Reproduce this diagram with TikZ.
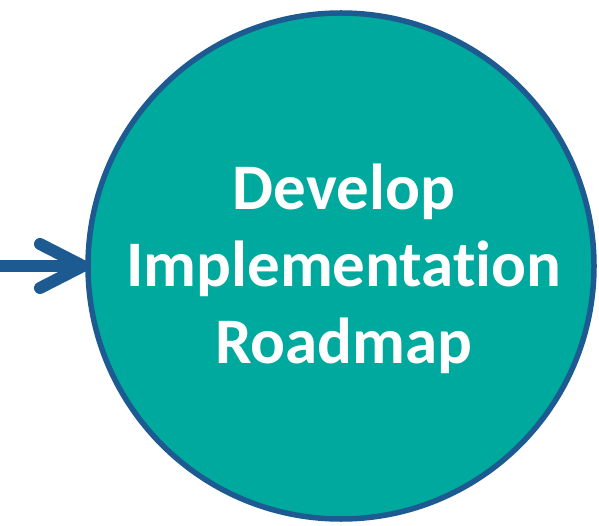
\documentclass[tikz,border=0pt]{standalone}
\usepackage{fontspec}
\setmainfont{Carlito}[Ligatures=NoCommon]
\definecolor{tealfill}{HTML}{00A99D}
\definecolor{rimblue}{HTML}{1D5A91}
\begin{document}
\begin{tikzpicture}[x=1pt,y=1pt,
  bigcircle/.style={circle,draw=rimblue,line width=5.5pt,fill=tealfill,minimum size=506pt,inner sep=0pt},
  lbl/.style={text=white,font=\fontsize{65}{77}\selectfont\bfseries,align=center},
  arrowline/.style={draw=rimblue,line width=12pt,line cap=round,line join=round}]
\useasboundingbox (0,0) rectangle (599,525);
\node[bigcircle] (c) at (341,259) {};
\node[lbl] (t) at (344,256) {Develop\\Implementation\\Roadmap};
\coordinate (s) at (-10,259);
\coordinate (tip) at (83,259);
\coordinate (u) at (40,281);
\coordinate (d) at (40,237);
\draw[arrowline] (s) -- (tip);
\draw[arrowline] (u) -- (tip) -- (d);
\end{tikzpicture}
\end{document}
